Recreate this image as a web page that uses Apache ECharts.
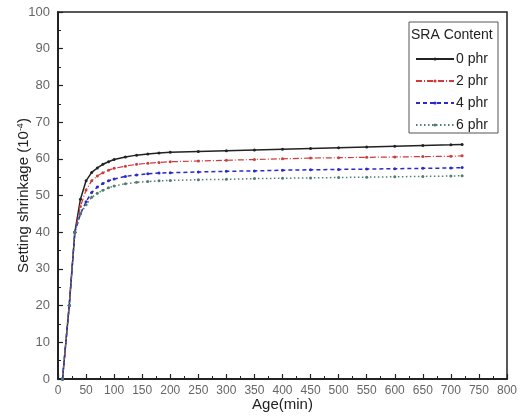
<!DOCTYPE html>
<html><head><meta charset="utf-8">
<script src="https://cdn.jsdelivr.net/npm/echarts@6/dist/echarts.min.js"></script>
<style>html,body{margin:0;padding:0;background:#fff}#c{width:527px;height:419px}</style>
</head><body><div id="c"></div>
<script>
const ages = [8, 20, 30, 40, 50, 60, 70, 80, 90, 100, 120, 140, 160, 180, 200, 250, 300, 350, 400, 450, 500, 550, 600, 650, 700, 720];
const phr0 = [0, 20, 40, 49, 54, 56.3, 57.5, 58.5, 59.2, 59.8, 60.5, 61, 61.3, 61.6, 61.8, 62.0, 62.2, 62.4, 62.6, 62.8, 63.0, 63.2, 63.4, 63.6, 63.8, 63.9];
const phr2 = [0, 20, 40, 47, 51.5, 54, 55.3, 56.2, 56.9, 57.4, 58.0, 58.5, 58.8, 59.0, 59.2, 59.4, 59.6, 59.8, 60.0, 60.2, 60.3, 60.4, 60.5, 60.6, 60.7, 60.8];
const phr4 = [0, 20, 40, 45, 48.3, 50.8, 52.3, 53.3, 54.0, 54.5, 55.2, 55.6, 55.9, 56.1, 56.2, 56.4, 56.6, 56.7, 56.9, 57.0, 57.1, 57.2, 57.3, 57.4, 57.5, 57.6];
const phr6 = [0, 20, 40, 45, 47.5, 49.5, 50.6, 51.4, 52.1, 52.6, 53.2, 53.6, 53.8, 54.0, 54.1, 54.3, 54.4, 54.6, 54.7, 54.8, 54.9, 55.0, 55.1, 55.2, 55.3, 55.4];
const seriesNames = ['0 phr', '2 phr', '4 phr', '6 phr'];
const xTicks = [0, 800, 50];
const yTicks = [0, 100, 10];

const F = 'Liberation Sans, Arial, sans-serif';
const pair = a => ages.map((x, i) => [x, a[i]]);
const styles = [
  {color: '#222222', type: 'solid', width: 1.5},
  {color: '#d03a3a', type: [6, 2, 1, 2], width: 1.2},
  {color: '#2a2ac8', type: [4, 3], width: 1.5},
  {color: '#4f7f6a', type: [1.5, 2.5], width: 1.5}
];
const data = [phr0, phr2, phr4, phr6];
const chart = echarts.init(document.getElementById('c'));
chart.setOption({
  animation: false,
  backgroundColor: '#fff',
  grid: {left: 58, right: 20, top: 12, bottom: 40, show: true, borderColor: '#222', borderWidth: 1.5, outerBoundsMode: 'none', containLabel: false},
  xAxis: {
    type: 'value', min: xTicks[0], max: xTicks[1], interval: xTicks[2],
    name: 'Age(min)', nameLocation: 'middle', nameGap: 18, nameMoveOverlap: false,
    nameTextStyle: {fontFamily: F, fontSize: 15, color: '#222'},
    axisLine: {lineStyle: {color: '#222', width: 2}},
    axisTick: {inside: true, length: 5, lineStyle: {color: '#222', width: 1.2}},
    minorTick: {show: true, splitNumber: 2, length: 3, lineStyle: {color: '#222'}},
    splitLine: {show: false},
    axisLabel: {fontFamily: F, fontSize: 12, color: '#666', margin: 6}
  },
  yAxis: {
    type: 'value', min: yTicks[0], max: yTicks[1], interval: yTicks[2],
    name: 'Setting shrinkage (10{sup|-4})', nameLocation: 'middle', nameGap: 27, nameRotate: 90, nameMoveOverlap: false,
    nameTextStyle: {fontFamily: F, fontSize: 15, color: '#222', rich: {sup: {fontSize: 9, verticalAlign: 'top', padding: [0, 0, 6, 0], fontFamily: F, color: '#222'}}},
    axisLine: {lineStyle: {color: '#222', width: 2}},
    axisTick: {inside: true, length: 5, lineStyle: {color: '#222', width: 1.2}},
    minorTick: {show: true, splitNumber: 2, length: 3, lineStyle: {color: '#222'}},
    splitLine: {show: false},
    axisLabel: {fontFamily: F, fontSize: 13, color: '#666', margin: 8}
  },
  legend: {
    orient: 'vertical', left: 410, top: 47, itemWidth: 38, itemHeight: 4, itemGap: 8, align: 'left',
    textStyle: {fontFamily: F, fontSize: 14, color: '#222', padding: [0, 0, 0, -3]},
    data: seriesNames
  },
  graphic: [
    {type: 'rect', shape: {x: 409, y: 22, width: 89, height: 111}, style: {fill: '#fff', stroke: '#555', lineWidth: 1}, z: 0},
    {type: 'text', left: 411, top: 28, style: {text: 'SRA Content', font: '14px ' + F, fill: '#222'}, z: 10}
  ],
  series: data.map((d, i) => ({
    name: seriesNames[i], type: 'line', data: pair(d), z: 5,
    symbol: 'circle', symbolSize: 3, showSymbol: true,
    itemStyle: {color: styles[i].color},
    lineStyle: {color: styles[i].color, type: styles[i].type, width: styles[i].width}
  }))
});
</script></body></html>
